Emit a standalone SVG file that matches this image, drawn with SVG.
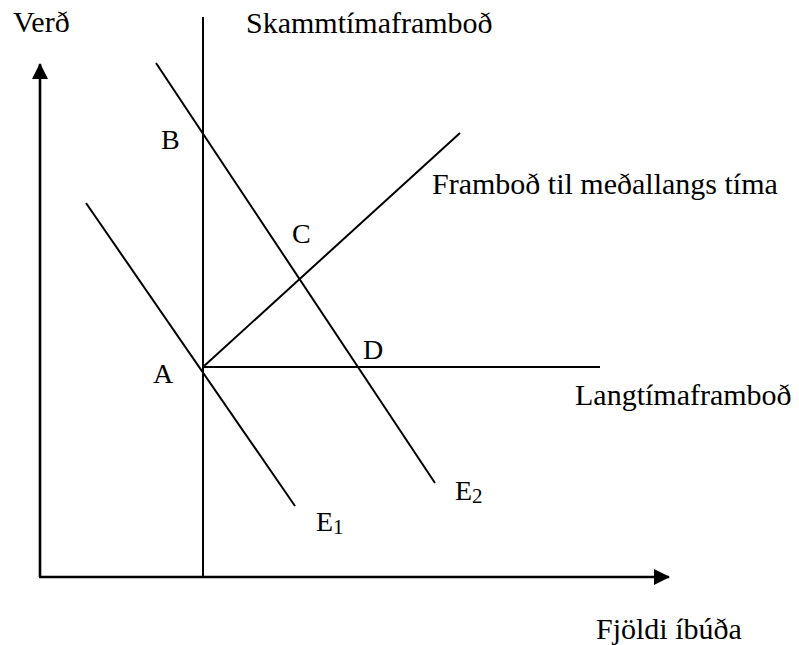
<svg xmlns="http://www.w3.org/2000/svg" width="799" height="645" viewBox="0 0 799 645">
<style>
text{font-family:"Liberation Serif","Times New Roman",serif;fill:#000}
.lbl{font-size:30px}
.pt{font-size:28px}
.sub{font-size:21px}
.ln{stroke:#000;stroke-width:2;fill:none}
.ax{stroke:#000;stroke-width:2.6;fill:none}
</style>
<defs>
<marker id="arr" markerWidth="16" markerHeight="16" refX="15" refY="8" orient="auto" markerUnits="userSpaceOnUse" viewBox="0 0 16 16">
<path d="M0,0 L16,8 L0,16 Z" fill="#000"/>
</marker>
</defs>
<rect width="799" height="645" fill="#fff"/>
<g id="connectors">
<line id="y-axis" class="ax" x1="40" y1="577" x2="40" y2="64" marker-end="url(#arr)"/>
<line id="x-axis" class="ax" x1="39" y1="577" x2="669" y2="577" marker-end="url(#arr)"/>
<line id="short-run" class="ln" x1="203" y1="17" x2="203" y2="577"/>
<line id="E1-line" class="ln" x1="86" y1="203" x2="295" y2="506"/>
<line id="E2-line" class="ln" x1="156" y1="63" x2="435" y2="483"/>
<line id="medium-run" class="ln" x1="203" y1="367" x2="460" y2="133"/>
<line id="long-run" class="ln" x1="203" y1="367" x2="600" y2="367"/>
</g>
<g id="label-verd"><text class="lbl" x="13" y="32">Verð</text></g>
<g id="label-skammtima"><text class="lbl" x="246" y="33">Skammtímaframboð</text></g>
<g id="label-medal"><text class="lbl" x="432" y="194">Framboð til meðallangs tíma</text></g>
<g id="label-langtima"><text class="lbl" x="575" y="405">Langtímaframboð</text></g>
<g id="label-fjoldi"><text class="lbl" x="596" y="639">Fjöldi íbúða</text></g>
<g id="point-B"><text class="pt" x="161" y="149">B</text></g>
<g id="point-C"><text class="pt" x="292" y="243">C</text></g>
<g id="point-D"><text class="pt" x="363" y="359">D</text></g>
<g id="point-A"><text class="pt" x="153" y="383">A</text></g>
<g id="label-E1"><text class="pt" x="316" y="531">E<tspan class="sub" dy="3">1</tspan></text></g>
<g id="label-E2"><text class="pt" x="455" y="500">E<tspan class="sub" dy="3">2</tspan></text></g>
</svg>
